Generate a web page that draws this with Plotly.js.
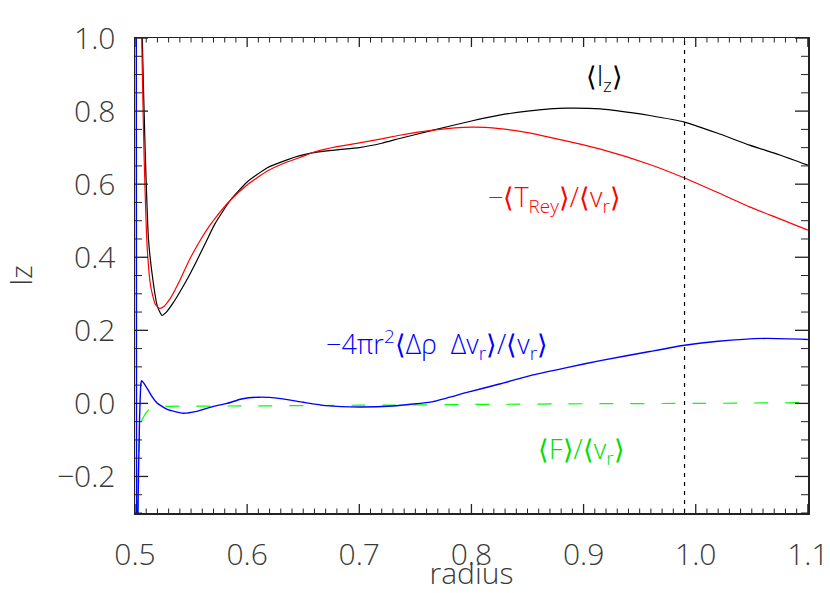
<!DOCTYPE html>
<html>
<head>
<meta charset="utf-8">
<script src="https://cdn.plot.ly/plotly-3.0.1.min.js"></script>
<style>html,body{margin:0;padding:0;background:#fff;}#chart{width:830px;height:593px;}</style>
</head>
<body>
<div id="chart"></div>
<script>
// <l_z>
var xLz = [0.5045, 0.5065, 0.509, 0.512, 0.516, 0.520, 0.524, 0.528, 0.534, 0.540, 0.546, 0.555, 0.563, 0.571, 0.585, 0.600, 0.618, 0.635, 0.647, 0.660, 0.680, 0.700, 0.720, 0.736, 0.766, 0.800, 0.825, 0.850, 0.870, 0.885, 0.915, 0.944, 0.959, 0.990, 1.019, 1.048, 1.075, 1.100];
var yLz = [1.5, 1.0, 0.70, 0.45, 0.337, 0.265, 0.241, 0.250, 0.275, 0.305, 0.337, 0.390, 0.440, 0.490, 0.556, 0.606, 0.645, 0.666, 0.678, 0.687, 0.694, 0.700, 0.712, 0.725, 0.748, 0.773, 0.789, 0.800, 0.806, 0.808, 0.806, 0.795, 0.788, 0.770, 0.740, 0.707, 0.680, 0.652];
// -<T_Rey>/<v_r>
var xRey = [0.504, 0.506, 0.508, 0.511, 0.514, 0.518, 0.522, 0.526, 0.532, 0.540, 0.548, 0.556, 0.564, 0.571, 0.585, 0.600, 0.618, 0.635, 0.647, 0.660, 0.680, 0.700, 0.720, 0.736, 0.766, 0.800, 0.825, 0.850, 0.870, 0.915, 0.959, 0.990, 1.019, 1.048, 1.075, 1.100];
var yRey = [1.5, 1.0, 0.69, 0.42, 0.32, 0.272, 0.260, 0.266, 0.290, 0.337, 0.390, 0.435, 0.475, 0.505, 0.556, 0.598, 0.636, 0.660, 0.673, 0.688, 0.703, 0.713, 0.724, 0.734, 0.748, 0.756, 0.752, 0.741, 0.728, 0.696, 0.654, 0.617, 0.578, 0.538, 0.505, 0.474];
// -4 pi r^2 <drho dv_r>/<v_r>
var xRho = [0.5008, 0.5015, 0.5026, 0.5040, 0.5053, 0.5060, 0.508, 0.512, 0.516, 0.520, 0.530, 0.543, 0.555, 0.570, 0.582, 0.595, 0.611, 0.630, 0.650, 0.670, 0.700, 0.730, 0.766, 0.796, 0.825, 0.855, 0.885, 0.915, 0.959, 0.990, 1.020, 1.063, 1.100];
var yRho = [3.0, -1.0, -0.30, -0.05, 0.055, 0.062, 0.055, 0.035, 0.015, 0.000, -0.018, -0.027, -0.022, -0.008, 0.000, 0.012, 0.017, 0.013, 0.003, -0.006, -0.010, -0.007, 0.005, 0.030, 0.053, 0.078, 0.098, 0.117, 0.142, 0.159, 0.170, 0.178, 0.175];
// <F>/<v_r>
var xF = [0.5010, 0.5020, 0.5035, 0.5050, 0.508, 0.512, 0.518, 0.530, 0.600, 0.700, 0.800, 0.900, 1.000, 1.100];
var yF = [-2.0, -0.5, -0.12, -0.055, -0.035, -0.018, -0.010, -0.008, -0.007, -0.005, -0.003, -0.001, 0.000, 0.002];
var markerX = [0.99];
var xRange = [0.5, 1.1];
var yRange = [-0.3, 1.0];
var xMajor = 0.1, xMinor = 0.01, yMajor = 0.2, yMinor = 0.05;

var FONT = '"Open Sans", "DejaVu Sans", sans-serif';
var TXT = '#3a3a3a';
var TICKC = '#222';

var traces = [
  {x: xLz, y: yLz, mode: 'lines', line: {color: '#000000', width: 1.2, shape: 'spline', smoothing: 0.5}, showlegend: false, hoverinfo: 'skip'},
  {x: xRey, y: yRey, mode: 'lines', line: {color: '#ff0000', width: 1.2, shape: 'spline', smoothing: 0.5}, showlegend: false, hoverinfo: 'skip'},
  {x: xF, y: yF, mode: 'lines', line: {color: '#00ff00', width: 1.2, dash: '14px,17px', shape: 'spline', smoothing: 0.5}, showlegend: false, hoverinfo: 'skip'},
  {x: xRho, y: yRho, mode: 'lines', line: {color: '#0000ff', width: 1.4, shape: 'spline', smoothing: 0.5}, showlegend: false, hoverinfo: 'skip'}
];

// axis tick marks on all four sides (inward), built from the axis ranges and steps
function tickValues(lo, hi, step) {
  var out = [], n = Math.round((hi - lo) / step);
  for (var i = 0; i <= n; i++) out.push(Math.round((lo + i * step) * 1e6) / 1e6);
  return out;
}
var shapes = [];
tickValues(xRange[0], xRange[1], xMinor).forEach(function(v, i) {
  var major = (i % Math.round(xMajor / xMinor)) === 0;
  var len = major ? 9 : 4.5, w = major ? 1.3 : 1;
  shapes.push({type: 'line', xref: 'x', yref: 'paper', ysizemode: 'pixel', yanchor: 0, x0: v, x1: v, y0: 0, y1: len, line: {color: TICKC, width: w}});
  shapes.push({type: 'line', xref: 'x', yref: 'paper', ysizemode: 'pixel', yanchor: 1, x0: v, x1: v, y0: 0, y1: -len, line: {color: TICKC, width: w}});
});
tickValues(yRange[0], yRange[1], yMinor).forEach(function(v) {
  var major = Math.abs(v / yMajor - Math.round(v / yMajor)) < 1e-6;
  var len = major ? 13 : 7, w = major ? 1.3 : 1;
  shapes.push({type: 'line', yref: 'y', xref: 'paper', xsizemode: 'pixel', xanchor: 0, y0: v, y1: v, x0: 0, x1: len, line: {color: TICKC, width: w}});
  shapes.push({type: 'line', yref: 'y', xref: 'paper', xsizemode: 'pixel', xanchor: 1, y0: v, y1: v, x0: 0, x1: -len, line: {color: TICKC, width: w}});
});
shapes.push({type: 'line', xref: 'x', yref: 'paper', x0: markerX[0], x1: markerX[0], y0: 0, y1: 1,
             line: {color: '#000', width: 1.2, dash: '4px,5px'}});

var layout = {
  width: 830, height: 593, showlegend: false,
  margin: {l: 135, r: 22, t: 38, b: 80},
  xaxis: {
    range: [xRange[0], xRange[1] + 0.0001], dtick: xMajor, tick0: xRange[0], tickformat: '.1f',
    showgrid: false, zeroline: false, showline: true, linecolor: '#222', linewidth: 1.5, mirror: true,
    ticks: '', ticklabelstandoff: 14,
    tickfont: {family: FONT, size: 30, color: TXT, weight: 300},
    title: {text: 'radius', font: {family: FONT, size: 30, color: TXT, weight: 300}, standoff: 10}
  },
  yaxis: {
    range: [yRange[0], yRange[1] + 0.0001], dtick: yMajor, tick0: 0, tickformat: '.1f',
    showgrid: false, zeroline: false, showline: true, linecolor: '#222', linewidth: 1.5, mirror: true,
    ticks: '', ticklabelstandoff: 12, layer: 'below traces',
    tickfont: {family: FONT, size: 30, color: TXT, weight: 300},
    title: {text: 'lz', font: {family: FONT, size: 30, color: TXT, weight: 300}, standoff: 22}
  },
  shapes: shapes,
  annotations: [
    {text: '⟨l<sub>z</sub>⟩', x: 0.919, y: 0.893, xref: 'x', yref: 'y', showarrow: false,
     font: {family: FONT, size: 27, color: '#000', weight: 300}},
    {text: '−⟨T<sub>Rey</sub>⟩/⟨v<sub>r</sub>⟩', x: 0.874, y: 0.562, xref: 'x', yref: 'y', showarrow: false,
     font: {family: FONT, size: 27, color: '#ff0000', weight: 300}},
    {text: '−4πr<sup>2</sup>⟨Δρ  Δv<sub>r</sub>⟩/⟨v<sub>r</sub>⟩', x: 0.769, y: 0.162, xref: 'x', yref: 'y', showarrow: false,
     font: {family: FONT, size: 27, color: '#0000ff', weight: 300}},
    {text: '⟨F⟩/⟨v<sub>r</sub>⟩', x: 0.898, y: -0.129, xref: 'x', yref: 'y', showarrow: false,
     font: {family: FONT, size: 27, color: '#00dd00', weight: 300}}
  ]
};

Plotly.newPlot('chart', traces, layout, {staticPlot: true});
</script>
</body>
</html>
